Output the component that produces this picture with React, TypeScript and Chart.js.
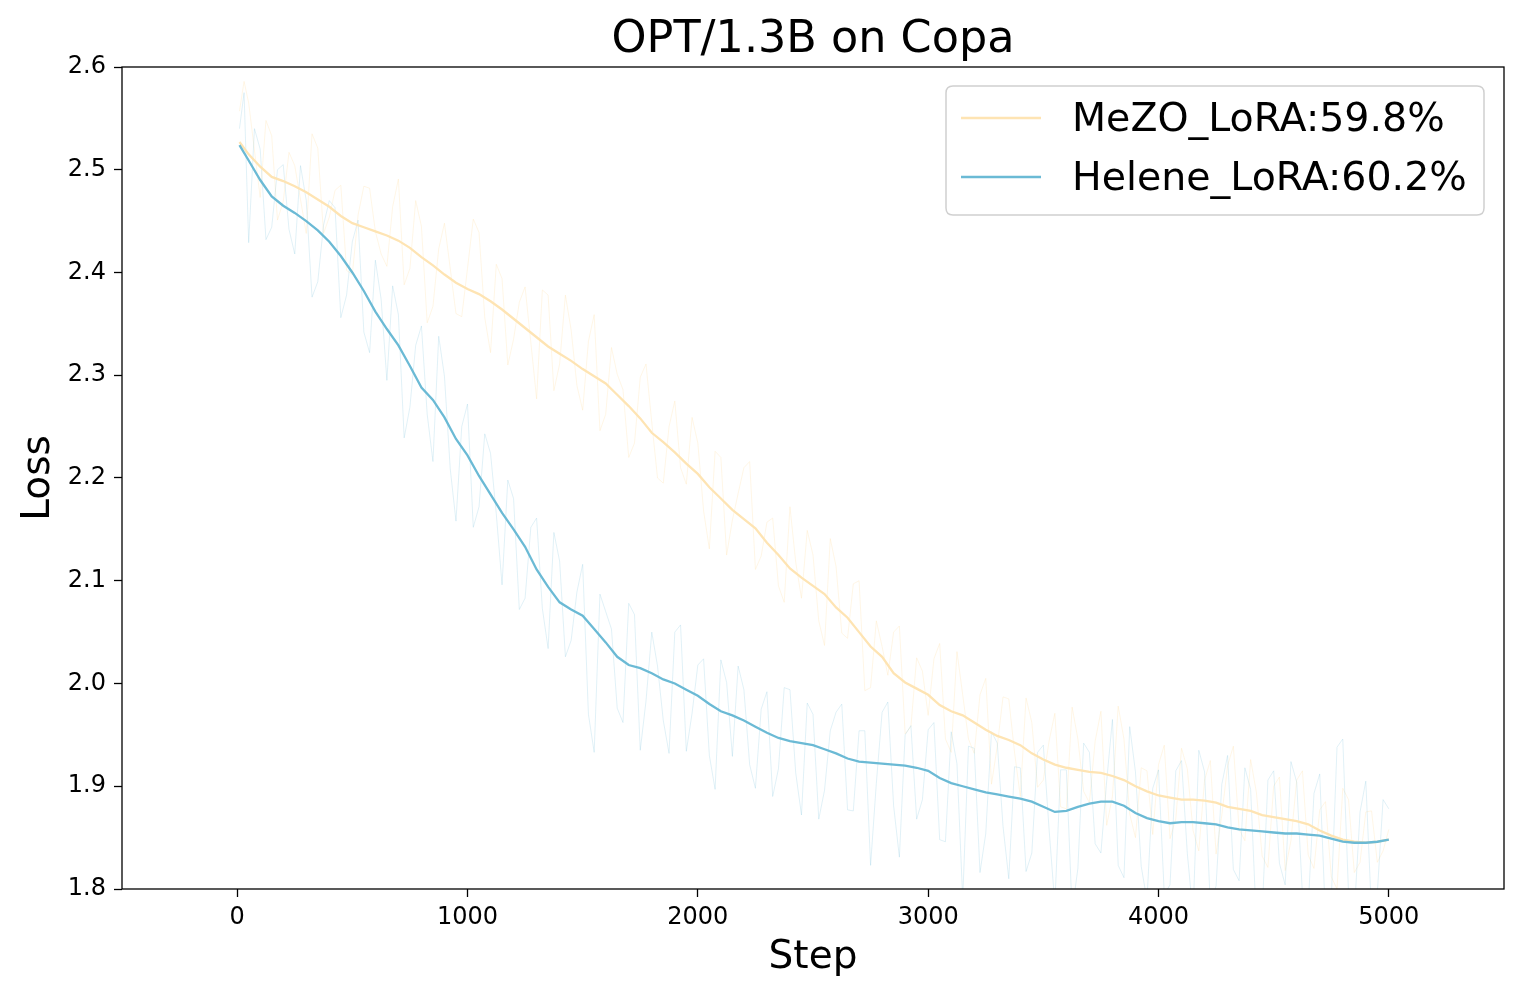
import React, { useEffect, useRef } from "react";
import { Chart, registerables } from "chart.js";

Chart.register(...registerables);

const TITLE = "OPT/1.3B on Copa";
const X_LABEL = "Step";
const Y_LABEL = "Loss";
const SERIES_NAMES = ["MeZO_LoRA:59.8%", "Helene_LoRA:60.2%"];

// sampling grid of the smoothed curves and of the first half of the raw samples
const STEPS = [
  10, 50, 100, 150, 200, 250, 300, 350, 400, 450, 500, 550, 600, 650, 700, 750, 800, 850, 900, 950,
  1000, 1050, 1100, 1150, 1200, 1250, 1300, 1350, 1400, 1450, 1500, 1550, 1600, 1650, 1700, 1750, 1800, 1850, 1900, 1950,
  2000, 2050, 2100, 2150, 2200, 2250, 2300, 2350, 2400, 2450, 2500, 2550, 2600, 2650, 2700, 2750, 2800, 2850, 2900, 2950,
  3000, 3050, 3100, 3150, 3200, 3250, 3300, 3350, 3400, 3450, 3500, 3550, 3600, 3650, 3700, 3750, 3800, 3850, 3900, 3950,
  4000, 4050, 4100, 4150, 4200, 4250, 4300, 4350, 4400, 4450, 4500, 4550, 4600, 4650, 4700, 4750, 4800, 4850, 4900, 4950,
  5000,
];

// in-between raw sample steps
const STEPS_B = [
  30, 75, 125, 175, 225, 275, 325, 375, 425, 475, 525, 575, 625, 675, 725, 775, 825, 875, 925, 975,
  1025, 1075, 1125, 1175, 1225, 1275, 1325, 1375, 1425, 1475, 1525, 1575, 1625, 1675, 1725, 1775, 1825, 1875, 1925, 1975,
  2025, 2075, 2125, 2175, 2225, 2275, 2325, 2375, 2425, 2475, 2525, 2575, 2625, 2675, 2725, 2775, 2825, 2875, 2925, 2975,
  3025, 3075, 3125, 3175, 3225, 3275, 3325, 3375, 3425, 3475, 3525, 3575, 3625, 3675, 3725, 3775, 3825, 3875, 3925, 3975,
  4025, 4075, 4125, 4175, 4225, 4275, 4325, 4375, 4425, 4475, 4525, 4575, 4625, 4675, 4725, 4775, 4825, 4875, 4925, 4975,
];

const MEZO_SMOOTH = [
  2.527, 2.515, 2.503, 2.493, 2.489, 2.484, 2.478, 2.471, 2.464, 2.455, 2.448, 2.444, 2.440, 2.436, 2.431, 2.424, 2.415, 2.407, 2.398, 2.390,
  2.384, 2.379, 2.372, 2.364, 2.355, 2.346, 2.337, 2.328, 2.321, 2.314, 2.306, 2.299, 2.292, 2.281, 2.270, 2.258, 2.244, 2.235, 2.225, 2.214,
  2.204, 2.191, 2.180, 2.169, 2.160, 2.151, 2.137, 2.125, 2.112, 2.103, 2.095, 2.087, 2.074, 2.064, 2.050, 2.036, 2.026, 2.010, 2.001, 1.995,
  1.989, 1.979, 1.973, 1.969, 1.962, 1.955, 1.949, 1.945, 1.940, 1.932, 1.926, 1.921, 1.918, 1.916, 1.914, 1.913, 1.910, 1.906, 1.900, 1.895,
  1.891, 1.889, 1.887, 1.887, 1.886, 1.884, 1.880, 1.878, 1.876, 1.872, 1.870, 1.868, 1.866, 1.863, 1.857, 1.852, 1.848, 1.846, 1.845, 1.846,
  1.848,
];

const HELENE_SMOOTH = [
  2.524, 2.509, 2.490, 2.474, 2.465, 2.458, 2.450, 2.441, 2.430, 2.416, 2.400, 2.382, 2.362, 2.345, 2.329, 2.309, 2.288, 2.276, 2.259, 2.238,
  2.222, 2.202, 2.184, 2.166, 2.150, 2.133, 2.111, 2.094, 2.079, 2.072, 2.066, 2.053, 2.040, 2.026, 2.018, 2.015, 2.010, 2.004, 2.000, 1.994,
  1.988, 1.980, 1.973, 1.969, 1.964, 1.958, 1.952, 1.947, 1.944, 1.942, 1.940, 1.936, 1.932, 1.927, 1.924, 1.923, 1.922, 1.921, 1.920, 1.918,
  1.915, 1.908, 1.903, 1.900, 1.897, 1.894, 1.892, 1.890, 1.888, 1.885, 1.880, 1.875, 1.876, 1.880, 1.883, 1.885, 1.885, 1.881, 1.874, 1.869,
  1.866, 1.864, 1.865, 1.865, 1.864, 1.863, 1.860, 1.858, 1.857, 1.856, 1.855, 1.854, 1.854, 1.853, 1.852, 1.849, 1.846, 1.845, 1.845, 1.846,
  1.848,
];

const MEZO_RAW = [
  2.557, 2.565, 2.473, 2.533, 2.469, 2.504, 2.438, 2.521, 2.454, 2.485, 2.398, 2.484, 2.440, 2.406, 2.491, 2.404, 2.445, 2.367, 2.448, 2.360,
  2.404, 2.439, 2.322, 2.394, 2.335, 2.386, 2.277, 2.378, 2.311, 2.344, 2.266, 2.359, 2.262, 2.301, 2.220, 2.298, 2.254, 2.195, 2.275, 2.194,
  2.234, 2.131, 2.220, 2.159, 2.210, 2.111, 2.157, 2.095, 2.172, 2.083, 2.125, 2.037, 2.114, 2.044, 2.100, 1.996, 2.036, 2.050, 1.951, 2.025,
  1.969, 2.039, 1.933, 1.989, 1.932, 2.005, 1.939, 1.985, 1.890, 1.962, 1.906, 1.971, 1.878, 1.946, 1.884, 1.973, 1.890, 1.946, 1.850, 1.915,
  1.921, 1.849, 1.937, 1.857, 1.906, 1.834, 1.920, 1.858, 1.926, 1.832, 1.900, 1.818, 1.906, 1.833, 1.877, 1.812, 1.898, 1.816, 1.875, 1.826,
  1.858,
];

const MEZO_RAW_B = [
  2.586, 2.519, 2.548, 2.451, 2.517, 2.471, 2.535, 2.438, 2.480, 2.402, 2.456, 2.482, 2.418, 2.464, 2.388, 2.470, 2.351, 2.423, 2.404, 2.357,
  2.452, 2.356, 2.408, 2.310, 2.371, 2.332, 2.383, 2.285, 2.378, 2.290, 2.333, 2.246, 2.327, 2.286, 2.234, 2.311, 2.200, 2.250, 2.210, 2.259,
  2.168, 2.226, 2.125, 2.185, 2.216, 2.124, 2.161, 2.079, 2.118, 2.149, 2.061, 2.141, 2.049, 2.097, 1.993, 2.061, 2.008, 2.056, 1.958, 2.012,
  2.024, 1.946, 2.031, 1.946, 1.989, 1.902, 1.987, 1.933, 1.986, 1.899, 1.944, 1.880, 1.977, 1.895, 1.944, 1.862, 1.978, 1.873, 1.918, 1.853,
  1.940, 1.868, 1.917, 1.837, 1.925, 1.872, 1.939, 1.847, 1.894, 1.821, 1.909, 1.847, 1.915, 1.820, 1.885, 1.800, 1.887, 1.826, 1.876, 1.837,
];

const HELENE_RAW = [
  2.540, 2.429, 2.520, 2.444, 2.505, 2.418, 2.470, 2.391, 2.470, 2.356, 2.430, 2.342, 2.412, 2.295, 2.359, 2.269, 2.348, 2.216, 2.299, 2.158,
  2.272, 2.172, 2.224, 2.096, 2.180, 2.083, 2.161, 2.034, 2.119, 2.042, 2.116, 1.933, 2.070, 1.976, 2.078, 1.935, 2.050, 1.964, 2.050, 1.934,
  2.018, 1.930, 2.023, 1.929, 1.994, 1.898, 1.992, 1.917, 1.994, 1.872, 1.970, 1.896, 1.972, 1.877, 1.954, 1.823, 1.972, 1.881, 1.950, 1.868,
  1.955, 1.848, 1.953, 1.790, 1.937, 1.854, 1.942, 1.810, 1.918, 1.835, 1.940, 1.785, 1.916, 1.820, 1.933, 1.835, 1.965, 1.811, 1.914, 1.789,
  1.916, 1.804, 1.925, 1.775, 1.914, 1.803, 1.930, 1.808, 1.897, 1.776, 1.915, 1.804, 1.904, 1.783, 1.912, 1.789, 1.946, 1.775, 1.905, 1.796,
  1.878,
];

const HELENE_RAW_B = [
  2.575, 2.540, 2.432, 2.500, 2.442, 2.504, 2.376, 2.446, 2.463, 2.378, 2.451, 2.322, 2.374, 2.387, 2.239, 2.329, 2.262, 2.338, 2.209, 2.250,
  2.152, 2.243, 2.165, 2.198, 2.072, 2.152, 2.073, 2.147, 2.026, 2.089, 1.970, 2.087, 2.053, 1.962, 2.067, 1.983, 2.017, 1.932, 2.057, 1.971,
  2.024, 1.897, 2.001, 2.017, 1.921, 1.975, 1.890, 1.996, 1.913, 1.981, 1.868, 1.954, 1.980, 1.876, 1.954, 1.903, 1.982, 1.831, 1.959, 1.887,
  1.962, 1.846, 1.922, 1.939, 1.816, 1.953, 1.861, 1.919, 1.817, 1.933, 1.858, 1.916, 1.778, 1.942, 1.844, 1.905, 1.823, 1.958, 1.822, 1.898,
  1.795, 1.915, 1.835, 1.935, 1.784, 1.902, 1.819, 1.918, 1.767, 1.906, 1.825, 1.924, 1.794, 1.893, 1.771, 1.938, 1.796, 1.875, 1.776, 1.887,
];

const X_TICKS = [0, 1000, 2000, 3000, 4000, 5000];
const X_TICK_LABELS = ["0", "1000", "2000", "3000", "4000", "5000"];
const Y_TICKS = [1.8, 1.9, 2.0, 2.1, 2.2, 2.3, 2.4, 2.5, 2.6];
const Y_TICK_LABELS = ["1.8", "1.9", "2.0", "2.1", "2.2", "2.3", "2.4", "2.5", "2.6"];

const MEZO_COLOR = "#FEE4B3";
const HELENE_COLOR = "#6BBAD5";
const MEZO_RAW_COLOR = "rgba(254, 228, 179, 0.33)";
const HELENE_RAW_COLOR = "rgba(107, 186, 213, 0.2)";

const FONT = "'DejaVu Sans', sans-serif";
const W = 1522;
const H = 997;

const toPoints = (ys: number[]) => ys.map((y, i) => ({ x: STEPS[i], y }));
const mergeRaw = (a: number[], b: number[]) =>
  [...a.map((y, i) => ({ x: STEPS[i], y })), ...b.map((y, i) => ({ x: STEPS_B[i], y }))].sort((p, q) => p.x - q.x);

const decorPlugin = {
  id: "decor",
  afterDatasetsDraw(chart: any) {
    const { ctx, chartArea } = chart;
    const { left, right, top, bottom } = chartArea;
    ctx.save();
    ctx.strokeStyle = "#000";
    ctx.lineWidth = 1.3;
    ctx.strokeRect(left, top, right - left, bottom - top);
    ctx.fillStyle = "#000";
    ctx.font = `44.5px ${FONT}`;
    ctx.textAlign = "center";
    ctx.textBaseline = "middle";
    ctx.fillText(TITLE, (left + right) / 2, 40);
    const bx = 946, by = 86, bw = 538, bh = 129, r = 7;
    ctx.beginPath();
    ctx.moveTo(bx + r, by);
    ctx.lineTo(bx + bw - r, by);
    ctx.quadraticCurveTo(bx + bw, by, bx + bw, by + r);
    ctx.lineTo(bx + bw, by + bh - r);
    ctx.quadraticCurveTo(bx + bw, by + bh, bx + bw - r, by + bh);
    ctx.lineTo(bx + r, by + bh);
    ctx.quadraticCurveTo(bx, by + bh, bx, by + bh - r);
    ctx.lineTo(bx, by + r);
    ctx.quadraticCurveTo(bx, by, bx + r, by);
    ctx.closePath();
    ctx.fillStyle = "rgba(255,255,255,0.8)";
    ctx.fill();
    ctx.strokeStyle = "#d0d0d0";
    ctx.lineWidth = 1.5;
    ctx.stroke();
    const rows = [
      { label: SERIES_NAMES[0], color: MEZO_COLOR, y: 118 },
      { label: SERIES_NAMES[1], color: HELENE_COLOR, y: 177 },
    ];
    ctx.font = `39.5px ${FONT}`;
    ctx.textAlign = "left";
    ctx.textBaseline = "middle";
    for (const row of rows) {
      ctx.strokeStyle = row.color;
      ctx.lineWidth = 2.4;
      ctx.beginPath();
      ctx.moveTo(961, row.y);
      ctx.lineTo(1041, row.y);
      ctx.stroke();
      ctx.fillStyle = "#000";
      ctx.fillText(row.label, 1072, row.y + 3);
    }
    ctx.restore();
  },
};

export default function App() {
  const ref = useRef<HTMLCanvasElement | null>(null);
  useEffect(() => {
    document.body.style.margin = "0";
    const canvas = ref.current;
    if (!canvas) return;
    const chart = new Chart(canvas, {
      type: "line",
      data: {
        datasets: [
          {
            label: SERIES_NAMES[1],
            data: toPoints(HELENE_SMOOTH),
            borderColor: HELENE_COLOR,
            borderWidth: 2.3,
            pointRadius: 0,
            tension: 0,
          },
          {
            label: SERIES_NAMES[0],
            data: toPoints(MEZO_SMOOTH),
            borderColor: MEZO_COLOR,
            borderWidth: 2.3,
            pointRadius: 0,
            tension: 0,
          },
          {
            label: "helene raw",
            data: mergeRaw(HELENE_RAW, HELENE_RAW_B),
            borderColor: HELENE_RAW_COLOR,
            borderWidth: 1,
            pointRadius: 0,
            tension: 0,
          },
          {
            label: "mezo raw",
            data: mergeRaw(MEZO_RAW, MEZO_RAW_B),
            borderColor: MEZO_RAW_COLOR,
            borderWidth: 1,
            pointRadius: 0,
            tension: 0,
          },
        ],
      },
      options: {
        responsive: false,
        animation: false,
        events: [],
        layout: { padding: { top: 67, right: 18, bottom: 0, left: 0 } },
        plugins: {
          legend: { display: false },
          title: { display: false },
          tooltip: { enabled: false },
        },
        scales: {
          x: {
            type: "linear",
            min: -500,
            max: 5500,
            afterBuildTicks: (scale: any) => {
              scale.ticks = X_TICKS.map((v) => ({ value: v }));
            },
            afterFit: (scale: any) => {
              scale.height = 108;
            },
            border: { display: false },
            grid: {
              drawOnChartArea: false,
              drawTicks: true,
              tickLength: 8,
              tickColor: "#000",
              tickWidth: 1.3,
            },
            ticks: {
              autoSkip: false,
              maxRotation: 0,
              padding: 6,
              color: "#000",
              font: { family: FONT, size: 24 },
              callback: (v: any) => {
                const i = X_TICKS.indexOf(Number(v));
                return i >= 0 ? X_TICK_LABELS[i] : "";
              },
            },
            title: {
              display: true,
              text: X_LABEL,
              color: "#000",
              font: { family: FONT, size: 39 },
              padding: { top: 0, bottom: 16 },
            },
          },
          y: {
            type: "linear",
            min: 1.8,
            max: 2.6,
            afterBuildTicks: (scale: any) => {
              scale.ticks = Y_TICKS.map((v) => ({ value: v }));
            },
            afterFit: (scale: any) => {
              scale.width = 122;
            },
            border: { display: false },
            grid: {
              drawOnChartArea: false,
              drawTicks: true,
              tickLength: 8,
              tickColor: "#000",
              tickWidth: 1.3,
            },
            ticks: {
              autoSkip: false,
              padding: 8,
              color: "#000",
              font: { family: FONT, size: 24 },
              callback: (v: any) => {
                const i = Y_TICKS.findIndex((t) => Math.abs(t - Number(v)) < 1e-6);
                return i >= 0 ? Y_TICK_LABELS[i] : "";
              },
            },
            title: {
              display: true,
              text: Y_LABEL,
              color: "#000",
              font: { family: FONT, size: 39 },
              padding: { top: 15, bottom: 0 },
            },
          },
        },
      },
      plugins: [decorPlugin],
    } as any);
    return () => chart.destroy();
  }, []);
  return (
    <div style={{ position: "fixed", left: 0, top: 0, width: W, height: H, background: "#fff" }}>
      <canvas ref={ref} width={W} height={H} style={{ width: W, height: H, display: "block" }} />
    </div>
  );
}
